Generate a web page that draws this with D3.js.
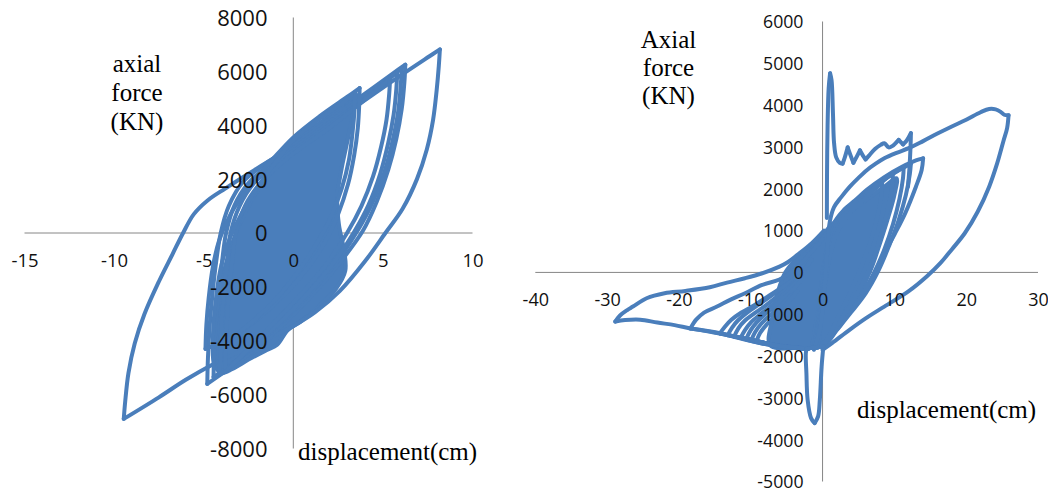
<!DOCTYPE html>
<html>
<head>
<meta charset="utf-8">
<script src="https://cdn.jsdelivr.net/npm/d3@7/dist/d3.min.js"></script>
<style>
  html, body { margin: 0; padding: 0; background: #fff; }
  svg { display: block; }
</style>
</head>
<body>
<svg id="chart" width="1048" height="491"></svg>
<script>
// ---------- tick values ----------
const leftXTicks = [-15, -10, -5, 0, 5, 10];
const leftYTicks = [-8000, -6000, -4000, -2000, 0, 2000, 4000, 6000, 8000];
const rightXTicks = [-40, -30, -20, -10, 0, 10, 20, 30];
const rightYTicks = [-5000, -4000, -3000, -2000, -1000, 0, 1000, 2000, 3000, 4000, 5000, 6000];

// ---------- left panel: displacement (cm), axial force (kN) ----------
// outermost cycle
const leftCycleA = [[-9.46,-6900],[-9.38,-6250],[-9.2,-5200],[-8.85,-4100],[-8.3,-3000],[-7.5,-1800],[-6.75,-800],[-6.15,0],[-5.55,700],[-4.8,1200],[-3.8,1650],[-2.5,2200],[-1,2800],[0,3100],[2,4000],[4,4930],[6,5850],[7.6,6560],[8.18,6815],[8.12,6200],[8,5300],[7.8,4200],[7.45,3100],[6.9,2000],[6.1,900],[5.14,0],[4,-1050],[2.6,-2150],[1.2,-2950],[0,-3450],[-1.5,-3950],[-3,-4400],[-4.5,-4880],[-6,-5450],[-7.5,-6100],[-9.46,-6900]];
const leftCycleB1 = [[-4.8,-5600],[-4.76,-4600],[-4.66,-3400],[-4.5,-2200],[-4.3,-1050],[-4.05,0],[-3.6,1000],[-2.8,1900],[-1.6,2550],[0,3250],[2,4220],[4,5170],[5.7,5990],[6.25,6250],[6.2,5600],[6.05,4600],[5.75,3500],[5.3,2350],[4.65,1150],[3.9,100],[2.6,-1100],[1.2,-2200],[-0.5,-3350],[-2.5,-4500],[-4.8,-5600]];
const leftCycleB2 = [[-4.45,-5350],[-4.42,-4500],[-4.33,-3400],[-4.18,-2300],[-3.98,-1100],[-3.75,0],[-3.3,1000],[-2.5,1850],[-1.3,2550],[0,3150],[2,4100],[4,5100],[5.6,5880],[6.05,6120],[6.0,5500],[5.85,4500],[5.55,3450],[5.1,2300],[4.4,1100],[3.6,100],[2.4,-1100],[1.0,-2200],[-0.6,-3300],[-2.5,-4400],[-4.45,-5350]];
const leftCycleB3 = [[-4.1,-5250],[-4.07,-4400],[-4.0,-3300],[-3.86,-2200],[-3.68,-1050],[-3.5,0],[-3.0,1000],[-2.2,1850],[-1.1,2500],[0,3050],[2,4000],[4,5000],[5.4,5750],[5.8,5980],[5.75,5350],[5.6,4400],[5.3,3350],[4.85,2200],[4.2,1050],[3.4,50],[2.2,-1150],[0.8,-2250],[-0.8,-3350],[-2.5,-4350],[-4.1,-5250]];
const leftCycleB4 = [[-3.8,-5150],[-3.77,-4300],[-3.7,-3200],[-3.57,-2100],[-3.4,-1000],[-3.2,0],[-2.7,1000],[-1.9,1800],[-0.9,2450],[0,2950],[2,3900],[4,4950],[5.0,5500],[5.4,5750],[5.35,5150],[5.2,4200],[4.9,3200],[4.45,2100],[3.8,1000],[3.0,0],[1.8,-1200],[0.4,-2300],[-1.1,-3350],[-2.5,-4300],[-3.8,-5150]];
const leftCycleC1 = [[-4.9,-4300],[-4.85,-3400],[-4.72,-2400],[-4.5,-1300],[-4.15,-300],[-3.5,700],[-2.5,1700],[-1.2,2700],[0,3550],[1.5,4350],[3,5050],[3.7,5380],[3.68,4800],[3.6,3900],[3.4,2900],[3.05,1800],[2.5,700],[1.8,-300],[0.8,-1300],[-0.5,-2300],[-2,-3200],[-3.5,-3900],[-4.9,-4300]];
const leftCycleC2 = [[-4.5,-4250],[-4.45,-3350],[-4.3,-2350],[-4.05,-1300],[-3.6,-300],[-2.9,700],[-2.0,1700],[-0.9,2700],[0,3450],[1.5,4250],[2.9,4900],[3.45,5200],[3.42,4600],[3.3,3700],[3.1,2700],[2.7,1650],[2.1,600],[1.3,-400],[0.3,-1400],[-0.9,-2400],[-2.3,-3300],[-3.5,-3900],[-4.5,-4250]];
// envelope of the many small, overlapping inner cycles
const leftInnerCycles = [[3.5,5150],[3.35,4500],[3.05,3500],[2.7,2400],[2.45,1300],[2.55,300],[2.85,-700],[2.9,-1400],[2.4,-2050],[1.4,-2750],[0.4,-3300],[-0.3,-3600],[-0.9,-4150],[-1.5,-4350],[-2.5,-4700],[-3.4,-5050],[-4.0,-5200],[-4.4,-4900],[-4.5,-4300],[-4.3,-3000],[-3.9,-1500],[-3.2,0],[-2.5,1000],[-1.7,1900],[-0.8,2700],[0,3350],[1.5,4100],[3.0,4850]];

// ---------- right panel ----------
const rightInitialPeak = [[0.6,1300],[0.62,2300],[0.7,3500],[0.85,4400],[1.05,4760],[1.25,4600],[1.45,3800],[1.6,3100],[1.9,2750],[2.4,2620],[2.8,2600],[3.1,2750],[3.5,2990],[3.9,2800],[4.3,2620],[4.8,2780],[5.2,2920],[5.6,2800],[6.0,2700],[6.5,2800],[7.3,2950],[8.1,3050],[8.6,3090],[9.2,2990],[9.7,3020],[10.6,3170],[11.2,3060],[11.7,3150],[12.3,3330],[12.25,3000],[12.1,2500],[11.9,2050]];
const rightCycleMax = [[-1.2,-1850],[-0.3,-1300],[0.3,-300],[0.7,600],[1.0,1200],[1.6,1560],[2.6,1800],[3.8,2050],[5,2260],[6.2,2450],[7.4,2600],[8.6,2730],[10.3,2860],[12,2970],[14,3140],[16,3320],[18,3490],[20,3650],[22,3830],[23.2,3910],[24.1,3900],[24.8,3840],[25.3,3770],[25.9,3760],[25.7,3450],[25.2,3150],[24.3,2600],[23.2,2050],[21.6,1450],[19.8,936],[18,550],[16.4,220],[14.5,-100],[12,-450],[8.6,-817],[6,-1100],[3.76,-1374],[1.32,-1691],[0,-1850]];
const rightCompressionPeak = [[0.11,-1772],[-0.13,-2250],[-0.38,-3046],[-0.62,-3444],[-1.1,-3603],[-1.6,-3484],[-2.08,-3046],[-2.25,-2400],[-2.33,-1930],[-2.2,-1820],[-1.2,-1800],[0.11,-1772]];
const rightCycleP1 = [[-1.5,-1800],[-0.6,-900],[0.3,300],[1.5,1150],[3,1500],[4.5,1720],[6.2,1980],[8.6,2280],[11,2520],[13,2680],[14,2728],[13.8,2450],[13.0,2050],[11.5,1413],[10.1,936],[8.6,458],[6.7,-179],[5,-600],[3.76,-896],[1.8,-1374],[0.35,-1692],[-1.5,-1800]];
const rightCycleP2 = [[-1.2,-1800],[-0.4,-900],[0.4,250],[1.6,1100],[3,1450],[4.5,1680],[6.2,1930],[8.6,2230],[10.8,2460],[12.3,2600],[12.15,2350],[11.6,1850],[10.6,1250],[9.3,650],[7.8,50],[6,-500],[4,-950],[2,-1380],[0.5,-1700],[-1.2,-1800]];
const rightCycleP3 = [[-1,-1800],[-0.3,-900],[0.5,200],[1.7,1050],[3.2,1420],[5,1720],[7,2000],[9.2,2290],[11.3,2520],[11.2,2250],[10.7,1750],[9.8,1150],[8.6,550],[7.2,0],[5.5,-550],[3.6,-1000],[1.8,-1400],[0.3,-1720],[-1,-1800]];
const rightCycleP4 = [[-0.8,-1800],[-0.1,-800],[0.7,250],[2,1050],[3.6,1450],[5.6,1780],[7.8,2100],[9.8,2380],[9.7,2100],[9.2,1600],[8.3,1000],[7.1,350],[5.6,-250],[3.8,-800],[2,-1280],[0.4,-1680],[-0.8,-1800]];
const rightCycleP5 = [[-0.6,-1790],[0.1,-700],[0.9,300],[2.3,1050],[4,1450],[6.2,1820],[8.3,2150],[8.2,1850],[7.6,1300],[6.6,700],[5.3,100],[3.8,-500],[2.2,-1050],[0.6,-1600],[-0.6,-1790]];
const rightCycleT1 = [[-2.2,-1830],[-5,-1790],[-8.4,-1700],[-11,-1590],[-13.8,-1470],[-16,-1400],[-18.4,-1340],[-20.6,-1260],[-23,-1200],[-25.4,-1130],[-27.5,-1140],[-28.86,-1175],[-28.2,-1030],[-27.2,-900],[-26.4,-817],[-24.5,-617],[-22,-497],[-19.1,-442],[-15.7,-354],[-13.3,-243],[-10.8,-139],[-8.4,-20],[-6,139],[-4.8,250],[-3.5,420],[-1.5,700],[0.2,1000]];
const rightCycleT2 = [[-2.2,-1830],[-5,-1790],[-8.4,-1700],[-11,-1600],[-13.8,-1480],[-16,-1410],[-18.4,-1340],[-17.6,-1130],[-16.5,-960],[-14.7,-817],[-12.8,-650],[-10.8,-497],[-8.4,-300],[-6,-170],[-4,50],[-2,400],[0,800]];
const rightCycleT3 = [[-2,-1820],[-6,-1760],[-10,-1620],[-12.5,-1520],[-14.3,-1460],[-13.6,-1300],[-12.7,-1135],[-11.3,-960],[-9.8,-817],[-8.3,-650],[-6.9,-497],[-5,-280],[-3.5,-100],[-1.5,300]];
const rightCycleT4 = [[-2,-1820],[-6,-1760],[-10,-1610],[-13.2,-1500],[-12.6,-1320],[-11.8,-1150],[-10.5,-960],[-9,-780],[-7.5,-600],[-5.5,-350],[-3.5,-100]];
const rightCycleT5 = [[-2,-1820],[-6,-1750],[-9.5,-1630],[-12.3,-1530],[-11.7,-1330],[-10.8,-1150],[-9.5,-980],[-8,-800],[-6.5,-600],[-4.5,-330],[-2.5,0]];
const rightCycleT6 = [[-2,-1820],[-6,-1760],[-9,-1650],[-11.4,-1560],[-10.8,-1380],[-10,-1200],[-8.8,-1020],[-7.3,-820],[-5.6,-560],[-3.8,-250]];
const rightCycleT7 = [[-2,-1820],[-6,-1760],[-8.5,-1680],[-10.6,-1580],[-10.0,-1380],[-9.2,-1200],[-8,-1000],[-6.5,-780],[-4.8,-520],[-3,-200]];
const rightCycleT8 = [[-2,-1820],[-6,-1760],[-9.9,-1610],[-9.4,-1430],[-8.6,-1240],[-7.4,-1040],[-6,-820],[-4.5,-560]];
const rightCycleT9 = [[-2,-1820],[-6,-1760],[-9.2,-1640],[-8.7,-1450],[-7.8,-1250],[-6.5,-1020],[-5,-750],[-3.5,-450]];
const rightInnerCycles = [[-7.3,-1740],[-7.0,-1100],[-6.2,-450],[-5.2,0],[-3.5,350],[-1.5,650],[0.3,950],[1.3,1150],[3.8,1450],[6.2,1750],[8.6,2050],[10.3,2250],[10.0,1850],[9.2,1350],[8.1,750],[6.8,100],[5.3,-450],[3.7,-950],[2.0,-1350],[0.4,-1650],[-1,-1790],[-3.5,-1810]];

// ---------- drawing ----------
const svg = d3.select('#chart');
const lineBlue = '#4a7ebb';
const axisGray = '#868686';
const tickFont = "'Open Sans', 'Noto Sans', sans-serif";
const labelFont = "'Liberation Serif', 'Times New Roman', serif";

// break a path at sharp turns so that load reversals keep their corners
function splitAtCorners(pts) {
  const segs = [];
  let cur = [pts[0]];
  for (let i = 1; i < pts.length; i++) {
    cur.push(pts[i]);
    if (i < pts.length - 1) {
      const a = pts[i - 1], b = pts[i], c = pts[i + 1];
      const v1 = [b[0] - a[0], b[1] - a[1]], v2 = [c[0] - b[0], c[1] - b[1]];
      const n = Math.hypot(v1[0], v1[1]) * Math.hypot(v2[0], v2[1]);
      const cos = n ? (v1[0] * v2[0] + v1[1] * v2[1]) / n : 1;
      if (cos < Math.cos(70 * Math.PI / 180)) { segs.push(cur); cur = [pts[i]]; }
    }
  }
  segs.push(cur);
  return segs;
}

function drawPanel(cfg) {
  const g = svg.append('g');
  const x = d3.scaleLinear().domain(cfg.xDomain).range(cfg.xRange);
  const y = d3.scaleLinear().domain(cfg.yDomain).range(cfg.yRange);

  // axis lines crossing at the origin
  g.append('line')
    .attr('x1', x(cfg.xDomain[0])).attr('x2', x(cfg.xDomain[1]))
    .attr('y1', y(0)).attr('y2', y(0))
    .attr('stroke', axisGray).attr('stroke-width', 1);
  g.append('line')
    .attr('x1', x(0)).attr('x2', x(0))
    .attr('y1', y(cfg.yDomain[1])).attr('y2', y(cfg.yDomain[0]))
    .attr('stroke', axisGray).attr('stroke-width', 1);

  // dense band of small cycles
  const closed = d3.line().x(d => x(d[0])).y(d => y(d[1])).curve(d3.curveCatmullRomClosed.alpha(0.5));
  g.append('path').datum(cfg.inner)
    .attr('d', closed)
    .attr('fill', lineBlue).attr('stroke', lineBlue)
    .attr('stroke-width', 4).attr('stroke-linejoin', 'round');

  // hysteresis cycles
  const open = d3.line().curve(d3.curveCatmullRom.alpha(0.5));
  cfg.cycles.forEach(c => {
    const px = c.map(p => [x(p[0]), y(p[1])]);
    splitAtCorners(px).forEach(seg => {
      g.append('path').attr('d', open(seg))
        .attr('fill', 'none').attr('stroke', lineBlue)
        .attr('stroke-width', 4).attr('stroke-linejoin', 'round').attr('stroke-linecap', 'round');
    });
  });

  // tick labels
  const yAxis = d3.axisLeft(y).tickValues(cfg.yTicks).tickSize(0).tickPadding(0).tickFormat(d => String(d));
  const ya = g.append('g').attr('transform', `translate(${cfg.yLabelRight},0)`).call(yAxis);
  ya.select('.domain').remove();
  ya.attr('font-family', tickFont).attr('font-size', cfg.yFont);
  ya.selectAll('text').attr('dy', '0.36em').attr('fill', '#111');

  const xAxis = d3.axisBottom(x).tickValues(cfg.xTicks).tickSize(0).tickPadding(0).tickFormat(d => String(d));
  const xa = g.append('g').attr('transform', `translate(0,${cfg.xLabelY})`).call(xAxis);
  xa.select('.domain').remove();
  xa.attr('font-family', tickFont).attr('font-size', cfg.xFont);
  xa.selectAll('text').attr('y', 0).attr('dy', '0.36em').attr('fill', '#111');

  // axis titles
  const t = g.append('text').attr('font-family', labelFont).attr('font-size', 25)
    .attr('text-anchor', 'middle').attr('fill', '#000');
  cfg.forceLines.forEach((s, i) => {
    t.append('tspan').attr('x', cfg.forceX).attr('y', cfg.forceY[i]).text(s);
  });
  g.append('text').attr('font-family', labelFont).attr('font-size', 25).attr('fill', '#000')
    .attr('x', cfg.dispX).attr('y', cfg.dispY).text('displacement(cm)');
}

drawPanel({
  xDomain: [-15, 10], xRange: [24.5, 472.5],
  yDomain: [-8000, 8000], yRange: [448.5, 17.5],
  xTicks: leftXTicks, yTicks: leftYTicks,
  inner: leftInnerCycles,
  cycles: [leftCycleA, leftCycleB1, leftCycleB2, leftCycleB3, leftCycleB4, leftCycleC1, leftCycleC2],
  yLabelRight: 267.5, yFont: 22,
  xLabelY: 260.5, xFont: 18.5,
  forceLines: ['axial', 'force', '(KN)'], forceX: 137, forceY: [72, 101, 129.5],
  dispX: 298, dispY: 460
});

drawPanel({
  xDomain: [-40, 30], xRange: [535.3, 1038],
  yDomain: [-5000, 6000], yRange: [481.5, 21.5],
  xTicks: rightXTicks, yTicks: rightYTicks,
  inner: rightInnerCycles,
  cycles: [rightCycleT1, rightCycleT2, rightCycleT3, rightCycleT4, rightCycleT5, rightCycleT6,
           rightCycleT7, rightCycleT8, rightCycleT9,
           rightCycleP1, rightCycleP2, rightCycleP3, rightCycleP4, rightCycleP5,
           rightCycleMax, rightInitialPeak, rightCompressionPeak],
  yLabelRight: 803.5, yFont: 17.7,
  xLabelY: 299.5, xFont: 18,
  forceLines: ['Axial', 'force', '(KN)'], forceX: 668.5, forceY: [48, 76, 104],
  dispX: 857, dispY: 418
});
</script>
</body>
</html>
